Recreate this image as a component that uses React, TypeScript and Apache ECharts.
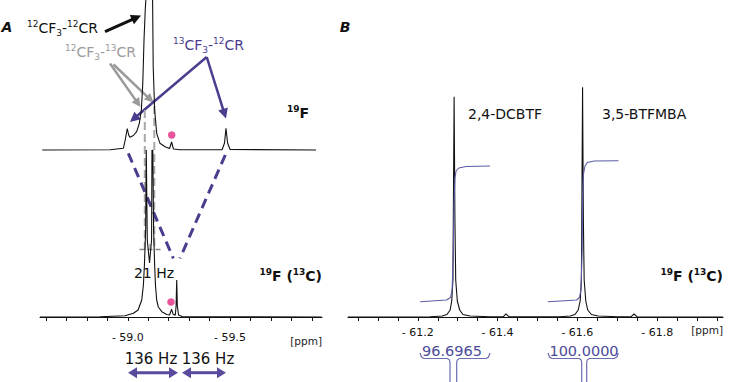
import React, { useEffect, useRef } from "react";
import * as echarts from "echarts";

// ---------- DATA (ppm, intensity in arbitrary units) ----------
// Panel A, 19F spectrum (upper trace)
const spectrumA19F: [number, number][] = [
  [-58.581, 0], [-58.913, 0.2], [-58.978, 1.7], [-58.987, 10], [-58.997, 21.5],
  [-59.004, 15], [-59.01, 12.7], [-59.027, 14.5], [-59.043, 18.3], [-59.056, 26.7],
  [-59.066, 40], [-59.073, 66.7], [-59.079, 110], [-59.085, 140], [-59.088, 150],
  [-59.105, 165], [-59.121, 150], [-59.124, 83.3], [-59.131, 40], [-59.141, 16.7],
  [-59.157, 6.7], [-59.182, 3.3], [-59.204, 1.5], [-59.214, 8], [-59.223, 1], [-59.255, 0.2],
  [-59.461, 0.2], [-59.473, 7], [-59.48, 21.7], [-59.488, 7], [-59.5, 0.5], [-59.921, 0],
];
// Panel A, 19F{13C} spectrum (lower trace)
const spectrumA13C: [number, number][] = [
  [-58.57, 0], [-58.864, 0.3], [-58.986, 1.2], [-59.027, 3.7], [-59.05, 7],
  [-59.068, 17], [-59.076, 32], [-59.081, 52], [-59.087, 87], [-59.09, 167],
  [-59.093, 167], [-59.095, 77], [-59.106, 54], [-59.116, 77], [-59.118, 167],
  [-59.122, 167], [-59.126, 87], [-59.131, 52], [-59.135, 32], [-59.141, 17],
  [-59.149, 10], [-59.166, 5.3], [-59.19, 2.5], [-59.204, 2], [-59.214, 7.7],
  [-59.222, 2.7], [-59.232, 1.7], [-59.236, 11], [-59.239, 37], [-59.242, 11],
  [-59.248, 2], [-59.265, 0.5], [-59.949, 0],
];
// Panel B, 19F{13C} spectrum
const spectrumB: [number, number][] = [
  [-61.025, 0], [-61.231, 0.2], [-61.261, 1], [-61.273, 2.5], [-61.281, 7],
  [-61.285, 16], [-61.288, 37], [-61.289, 97], [-61.291, 220.3], [-61.293, 97],
  [-61.295, 37], [-61.299, 16], [-61.305, 7], [-61.313, 2.5], [-61.331, 1],
  [-61.381, 0.2], [-61.414, 0.2], [-61.421, 3.2], [-61.429, 0.2],
  [-61.556, 0.2], [-61.582, 1], [-61.594, 2.5], [-61.602, 7], [-61.607, 16],
  [-61.61, 37], [-61.611, 97], [-61.613, 229.7], [-61.615, 97], [-61.617, 37],
  [-61.621, 16], [-61.626, 7], [-61.635, 2.5], [-61.652, 1], [-61.702, 0.2],
  [-61.734, 0.2], [-61.742, 3], [-61.75, 0.2], [-61.965, 0],
];
// Panel B integral curves
const integralDCBTF: [number, number][] = [
  [-61.206, 15.3], [-61.272, 17], [-61.282, 19.5], [-61.286, 27], [-61.289, 67],
  [-61.291, 117], [-61.293, 139], [-61.296, 146], [-61.303, 149], [-61.321, 150.5], [-61.381, 151],
];
const integralBTFMBA: [number, number][] = [
  [-61.526, 15.3], [-61.598, 17], [-61.605, 19.5], [-61.609, 27], [-61.612, 67],
  [-61.613, 117], [-61.615, 142], [-61.619, 151], [-61.625, 154.5], [-61.642, 156], [-61.703, 156.3],
];
const integralValues = ["96.6965", "100.0000"];
const compoundNames = ["2,4-DCBTF", "3,5-BTFMBA"];

// Axis ticks / labels
const ticksA = [-58.6, -58.7, -58.8, -58.9, -59.0, -59.1, -59.2, -59.3, -59.4, -59.5, -59.6, -59.7, -59.8, -59.9];
const labelsA = [-59.0, -59.5];
const ticksB = [-61.05, -61.1, -61.15, -61.2, -61.25, -61.3, -61.35, -61.4, -61.45, -61.5, -61.55, -61.6, -61.65, -61.7, -61.75, -61.8, -61.85, -61.9, -61.95];
const labelsB = [-61.2, -61.4, -61.6, -61.8];

// ---------- STYLE ----------
const FONT = '"DejaVu Sans", Verdana, sans-serif';
const PURPLE = "#4b3c8e";
const GRAY = "#9a9a9a";
const PINK = "#e8559a";
const INTEG = "#5b5ba6";

function arrow(x1: number, y1: number, x2: number, y2: number, color: string, w: number, hl: number, hw: number, both = false): any[] {
  const dx = x2 - x1, dy = y2 - y1, L = Math.hypot(dx, dy);
  const ux = dx / L, uy = dy / L, px = -uy, py = ux;
  const head = (tx: number, ty: number, s: number) => ({
    type: "polygon",
    shape: { points: [[tx, ty], [tx - s * hl * ux + hw * px, ty - s * hl * uy + hw * py], [tx - s * hl * ux - hw * px, ty - s * hl * uy - hw * py]] },
    style: { fill: color },
  });
  const sx = both ? x1 + hl * 0.8 * ux : x1, sy = both ? y1 + hl * 0.8 * uy : y1;
  const out: any[] = [
    { type: "line", shape: { x1: sx, y1: sy, x2: x2 - hl * 0.8 * ux, y2: y2 - hl * 0.8 * uy }, style: { stroke: color, lineWidth: w } },
    head(x2, y2, 1),
  ];
  if (both) out.push(head(x1, y1, -1));
  return out;
}

function richText(x: number, y: number, text: string, color: string, size: number, bold = false, align = "left"): any {
  const fw = bold ? "bold" : "normal";
  const small = Math.round(size * 0.66);
  return {
    type: "text",
    x, y,
    style: {
      text,
      fill: color,
      align, verticalAlign: "middle",
      textAlign: align, textVerticalAlign: "middle",
      font: `${fw} ${size}px ${FONT}`,
      rich: {
        n: { fontSize: size, fontFamily: FONT, fontWeight: fw, fill: color, lineHeight: size + 4, verticalAlign: "middle" },
        s: { fontSize: small, fontFamily: FONT, fontWeight: fw, fill: color, lineHeight: small + 1, verticalAlign: "top" },
        b: { fontSize: small, fontFamily: FONT, fontWeight: fw, fill: color, lineHeight: small + 1, verticalAlign: "bottom" },
      },
    },
  };
}

function plainText(x: number, y: number, text: string, color: string, size: number, extra: any = {}): any {
  return {
    type: "text", x, y,
    style: { text, fill: color, font: `${extra.style || "normal"} ${extra.weight || "normal"} ${size}px ${FONT}`, textAlign: extra.align || "center", textVerticalAlign: "middle", align: extra.align || "center", verticalAlign: "middle" },
  };
}

function bracket(xl: number, xc1: number, xc2: number, xr: number, color: string): any[] {
  const yt = 353, yh = 358.5, yb = 382;
  return [
    { type: "polyline", shape: { points: [[xl, yt], [xl + 1.5, yh - 1.5], [xl + 4, yh], [xc1 - 2.5, yh], [xc1 - 0.5, yh + 1.5], [xc1, yh + 4], [xc1, yb]] }, style: { stroke: color, lineWidth: 1.2, fill: null } },
    { type: "polyline", shape: { points: [[xr, yt], [xr - 1.5, yh - 1.5], [xr - 4, yh], [xc2 + 2.5, yh], [xc2 + 0.5, yh + 1.5], [xc2, yh + 4], [xc2, yb]] }, style: { stroke: color, lineWidth: 1.2, fill: null } },
  ];
}

const ppmFmt = (v: number) => "- " + Math.abs(v).toFixed(1);

export default function App() {
  const ref = useRef<HTMLDivElement>(null);
  useEffect(() => {
    if (!ref.current) return;
    const chart = echarts.init(ref.current, undefined, { renderer: "svg" });
    const lineStyle = { color: "#111", width: 1.1 };
    const xBase = {
      type: "value", inverse: true, splitLine: { show: false },
    };
    const graphics: any[] = [
      plainText(7, 27, "A", "#111", 14, { style: "italic", weight: "bold" }),
      plainText(345, 27, "B", "#111", 14, { style: "italic", weight: "bold" }),
      richText(27, 28, "{s|12}{n|CF}{b|3}{n|-}{s|12}{n|CR}", "#111", 14),
      ...arrow(105, 31.7, 141, 15.5, "#111", 3, 10, 5),
      richText(65, 52, "{s|12}{n|CF}{b|3}{n|-}{s|13}{n|CR}", GRAY, 14),
      ...arrow(110, 63.5, 140.5, 107, GRAY, 2.5, 9, 4.5),
      ...arrow(113.5, 64.5, 153.5, 102.5, GRAY, 2.5, 9, 4.5),
      richText(173, 45, "{s|13}{n|CF}{b|3}{n|-}{s|12}{n|CR}", PURPLE, 14),
      ...arrow(206.7, 57, 130, 122, PURPLE, 2.5, 10, 5),
      ...arrow(206.7, 57, 226, 118.5, PURPLE, 2.5, 10, 5),
      richText(287, 113, "{s|19}{n|F}", "#111", 14, true),
      // gray dashed guide lines (12CF3-13CR satellites)
      { type: "line", shape: { x1: 144.8, y1: 110, x2: 144.8, y2: 250 }, style: { stroke: "#a8a8a8", lineWidth: 2, lineDash: [8, 4] } },
      { type: "line", shape: { x1: 154.3, y1: 106, x2: 154.3, y2: 250 }, style: { stroke: "#a8a8a8", lineWidth: 2, lineDash: [8, 4] } },
      { type: "line", shape: { x1: 139.5, y1: 249.5, x2: 163, y2: 249.5 }, style: { stroke: "#888", lineWidth: 1.5, lineDash: [5, 3] } },
      { type: "line", shape: { x1: 150, y1: 244, x2: 150, y2: 250 }, style: { stroke: "#888", lineWidth: 1 } },
      // purple dashed connectors
      { type: "line", shape: { x1: 128.3, y1: 153.3, x2: 173.3, y2: 258.3 }, style: { stroke: PURPLE, lineWidth: 3, lineDash: [10, 6] } },
      { type: "line", shape: { x1: 225.3, y1: 155, x2: 180, y2: 258.3 }, style: { stroke: PURPLE, lineWidth: 3, lineDash: [10, 6] } },
      { type: "circle", shape: { cx: 171.7, cy: 135, r: 3.8 }, style: { fill: PINK } },
      { type: "circle", shape: { cx: 171, cy: 302, r: 3.8 }, style: { fill: PINK } },
      plainText(154, 273, "21 Hz", "#111", 14),
      richText(322, 276, "{s|19}{n|F (}{s|13}{n|C)}", "#111", 14, true, "right"),
      plainText(322, 341, "[ppm]", "#222", 10.5, { align: "right" }),
      plainText(151, 359, "136 Hz", "#111", 15),
      plainText(208, 359, "136 Hz", "#111", 15),
      ...arrow(128, 372.7, 178, 372.7, "#5a4a9e", 3, 9, 5.5, true),
      ...arrow(182, 372.7, 226, 372.7, "#5a4a9e", 3, 9, 5.5, true),
      // panel B
      plainText(468, 114, compoundNames[0], "#111", 14, { align: "left" }),
      plainText(602, 114, compoundNames[1], "#111", 14, { align: "left" }),
      richText(723, 276, "{s|19}{n|F (}{s|13}{n|C)}", "#111", 14, true, "right"),
      plainText(723, 330, "[ppm]", "#222", 10.5, { align: "right" }),
      plainText(452, 351, integralValues[0], "#4b4b99", 14.5),
      plainText(584, 351, integralValues[1], "#4b4b99", 14.5),
      ...bracket(420, 450, 456.7, 490, "#6b6bb0"),
      ...bracket(548, 581.7, 586.7, 618.3, "#6b6bb0"),
    ];

    chart.setOption({
      animation: false,
      backgroundColor: "#ffffff",
      grid: [
        { left: 40, top: 0, width: 282, height: 155 },
        { left: 40, top: 150, width: 282, height: 174 },
        { left: 348, top: 80, width: 375, height: 244 },
      ],
      xAxis: [
        { ...xBase, gridIndex: 0, min: -59.95, max: -58.57, show: false },
        {
          ...xBase, gridIndex: 1, min: -59.95, max: -58.57,
          axisLine: { show: true, lineStyle: { color: "#111", width: 1 } },
          axisTick: { show: true, length: 4, lineStyle: { color: "#111" }, customValues: ticksA },
          axisLabel: { show: true, customValues: labelsA, formatter: ppmFmt, margin: 8, color: "#111", fontSize: 11, fontFamily: FONT },
        },
        {
          ...xBase, gridIndex: 2, min: -61.965, max: -61.025,
          axisLine: { show: true, lineStyle: { color: "#111", width: 1 } },
          axisTick: { show: true, length: 4, lineStyle: { color: "#111" }, customValues: ticksB },
          axisLabel: { show: true, customValues: labelsB, formatter: ppmFmt, margin: 3, color: "#111", fontSize: 11, fontFamily: FONT },
        },
      ],
      yAxis: [
        { type: "value", gridIndex: 0, min: -5, max: 150, show: false },
        { type: "value", gridIndex: 1, min: -7, max: 167, show: false },
        { type: "value", gridIndex: 2, min: -7, max: 237, show: false },
      ],
      series: [
        { type: "line", xAxisIndex: 0, yAxisIndex: 0, data: spectrumA19F, symbol: "none", lineStyle, clip: true },
        { type: "line", xAxisIndex: 1, yAxisIndex: 1, data: spectrumA13C, symbol: "none", lineStyle, clip: true },
        { type: "line", xAxisIndex: 2, yAxisIndex: 2, data: spectrumB, symbol: "none", lineStyle, clip: true },
        { type: "line", xAxisIndex: 2, yAxisIndex: 2, data: integralDCBTF, symbol: "none", lineStyle: { color: INTEG, width: 1.1 } },
        { type: "line", xAxisIndex: 2, yAxisIndex: 2, data: integralBTFMBA, symbol: "none", lineStyle: { color: INTEG, width: 1.1 } },
      ],
      graphic: graphics,
    });
    return () => chart.dispose();
  }, []);
  return <div ref={ref} style={{ position: "absolute", left: 0, top: 0, width: 736, height: 382 }} />;
}
